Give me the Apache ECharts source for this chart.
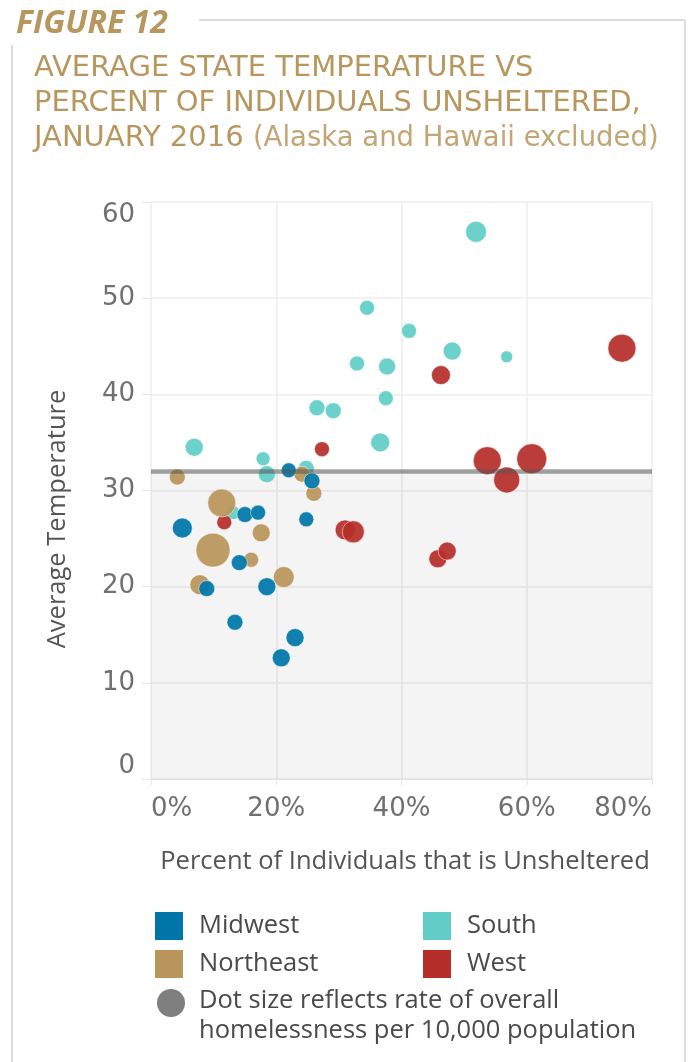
<!DOCTYPE html>
<html><head><meta charset="utf-8">
<script src="https://cdn.jsdelivr.net/npm/echarts@6/dist/echarts.min.js"></script>
<style>html,body{margin:0;padding:0;background:#fff}#c{width:689px;height:1062px}</style>
</head><body><div id="c"></div>
<script>
// Percent unsheltered (x), average January temperature (y), homelessness rate per 10,000 (size)
const southX    = [6.9, 51.9, 34.5, 41.2, 48.1, 56.8, 32.9, 37.7, 37.5, 26.5, 29.1, 36.6, 17.9, 18.5, 24.8, 13.1];
const southTemp = [34.5, 56.9, 49.0, 46.6, 44.5, 43.9, 43.2, 42.9, 39.6, 38.6, 38.3, 35.0, 33.3, 31.7, 32.3, 27.7];
const southRate = [13, 17.6, 9, 9, 13, 5.8, 9, 11.6, 9, 10.2, 10.2, 14.4, 7.8, 11.6, 10.2, 7.8];

const midwestX    = [22.0, 25.7, 15.0, 17.1, 5.0, 24.8, 14.1, 8.9, 18.5, 13.4, 23.0, 20.8];
const midwestTemp = [32.1, 31.0, 27.5, 27.7, 26.1, 27.0, 22.5, 19.8, 20.0, 16.3, 14.7, 12.6];
const midwestRate = [9, 10.2, 10.2, 9, 16, 9, 10.2, 10.2, 13, 10.2, 13, 13];

const northeastX    = [4.2, 24.1, 26.0, 11.3, 17.6, 9.9, 16.0, 21.2, 7.8];
const northeastTemp = [31.4, 31.7, 29.7, 28.7, 25.6, 23.8, 22.8, 21.0, 20.2];
const northeastRate = [10.2, 10.2, 10.2, 31.4, 13, 46.2, 9, 17.6, 16];

const westX    = [27.3, 46.3, 75.2, 53.7, 60.8, 56.8, 11.7, 31.0, 32.3, 45.8, 47.3];
const westTemp = [34.3, 42.0, 44.8, 33.1, 33.3, 31.1, 26.7, 25.9, 25.7, 22.9, 23.7];
const westRate = [9, 14.4, 31.4, 31.4, 36, 27, 9, 16, 19.4, 13, 13];

const freezingLine = 32;
const xTicks = [0, 20, 40, 60, 80];
const yTicks = [0, 10, 20, 30, 40, 50, 60];

const COLORS = { Midwest: '#0076a8', South: '#62cdc7', Northeast: '#b8955a', West: '#b52e2a' };
const GOLD = '#b8975f';
const FONT = 'Open Sans';
const NUMFONT = 'DejaVu Sans';

function pts(xs, ys, rs) { return xs.map((x, i) => [x, ys[i], rs[i]]); }

function scatter(name, data) {
  return {
    name, type: 'scatter', data,
    symbolSize: v => 5 * Math.sqrt(v[2]),
    itemStyle: { color: COLORS[name], opacity: 0.93, borderColor: 'rgba(255,255,255,0.55)', borderWidth: 1 },
    z: 3, silent: true
  };
}

const legendCommon = {
  orient: 'vertical', top: 912, icon: 'rect', padding: 0,
  itemWidth: 28, itemHeight: 28, itemGap: 10, selectedMode: false,
  itemStyle: { opacity: 1, borderWidth: 0 },
  textStyle: { fontSize: 25.5, color: '#4a4a4a', fontFamily: FONT, padding: [0, 0, 0, 11] }
};

const chart = echarts.init(document.getElementById('c'), null, { renderer: 'canvas' });
chart.setOption({
  animation: false,
  backgroundColor: '#fff',
  grid: { left: 151, right: 37, top: 202, bottom: 283 },
  xAxis: {
    type: 'value', min: xTicks[0], max: xTicks[xTicks.length - 1], interval: 20,
    axisLine: { show: true, lineStyle: { color: '#e2e2e2', width: 1 } },
    axisTick: { show: true, length: 6, lineStyle: { color: '#e6e6e6' } },
    splitLine: { show: true, lineStyle: { color: '#ededed', width: 1.5 } },
    axisLabel: { formatter: '{value}%', margin: 17, color: '#707070', fontSize: 26, fontFamily: NUMFONT,
                 alignMinLabel: 'left', alignMaxLabel: 'right' }
  },
  yAxis: {
    type: 'value', min: yTicks[0], max: yTicks[yTicks.length - 1], interval: 10,
    axisLine: { show: false },
    axisTick: { show: true, length: 9, lineStyle: { color: '#e6e6e6' } },
    splitLine: { show: true, lineStyle: { color: '#ededed', width: 1.5 } },
    axisLabel: { margin: 16, color: '#707070', fontSize: 26, fontFamily: NUMFONT,
                 verticalAlignMinLabel: 'bottom', verticalAlignMaxLabel: 'top' }
  },
  legend: [
    Object.assign({ data: ['Midwest', 'Northeast'], left: 155 }, legendCommon),
    Object.assign({ data: ['South', 'West'], left: 423 }, legendCommon)
  ],
  series: [
    { type: 'scatter', data: [], z: 1, silent: true,
      markArea: { silent: true, itemStyle: { color: 'rgba(0,0,0,0.045)' },
                  data: [[{ yAxis: 0 }, { yAxis: freezingLine }]] } },
    scatter('South', pts(southX, southTemp, southRate)),
    scatter('West', pts(westX, westTemp, westRate)),
    scatter('Northeast', pts(northeastX, northeastTemp, northeastRate)),
    scatter('Midwest', pts(midwestX, midwestTemp, midwestRate)),
    { type: 'scatter', data: [], z: 10, silent: true,
      markLine: { silent: true, symbol: 'none', label: { show: false },
                  lineStyle: { color: 'rgba(85,85,85,0.55)', width: 4.5, type: 'solid' },
                  data: [{ yAxis: freezingLine }] } }
  ],
  graphic: [
    { type: 'line', shape: { x1: 199, y1: 20, x2: 685, y2: 20 }, style: { stroke: '#dcdcdc', lineWidth: 2 } },
    { type: 'line', shape: { x1: 685, y1: 20, x2: 685, y2: 1062 }, style: { stroke: '#dcdcdc', lineWidth: 2 } },
    { type: 'line', shape: { x1: 12, y1: 45, x2: 12, y2: 1062 }, style: { stroke: '#dcdcdc', lineWidth: 2 } },
    { type: 'text', left: 16, top: 8, style: { text: 'FIGURE 12', fill: GOLD, font: 'italic bold 32px "Open Sans"' } },
    { type: 'text', left: 34, top: 54, style: { text: 'AVERAGE STATE TEMPERATURE VS', fill: GOLD, font: '29px "DejaVu Sans"' } },
    { type: 'text', left: 34, top: 89, style: { text: 'PERCENT OF INDIVIDUALS UNSHELTERED,', fill: GOLD, font: '29px "DejaVu Sans"' } },
    { type: 'text', left: 34, top: 124, style: {
        text: '{a|JANUARY 2016 }{b|(Alaska and Hawaii excluded)}',
        rich: { a: { fill: GOLD, font: '29px "DejaVu Sans"' }, b: { fill: '#c2a676', font: '27.5px "DejaVu Sans"' } } } },
    { type: 'text', x: 58, y: 519, rotation: Math.PI / 2,
      style: { text: 'Average Temperature', fill: '#555', font: '25.5px "Open Sans"', align: 'center', verticalAlign: 'middle' } },
    { type: 'text', x: 405, y: 862,
      style: { text: 'Percent of Individuals that is Unsheltered', fill: '#555', font: '25.5px "Open Sans"', align: 'center', verticalAlign: 'middle' } },
    { type: 'circle', shape: { cx: 171, cy: 1003, r: 14 }, style: { fill: '#7f7f7f' } },
    { type: 'text', left: 199, top: 988, style: { text: 'Dot size reflects rate of overall', fill: '#4a4a4a', font: '25.5px "Open Sans"' } },
    { type: 'text', left: 199, top: 1018, style: { text: 'homelessness per 10,000 population', fill: '#4a4a4a', font: '25.5px "Open Sans"' } }
  ]
});
</script></body></html>
